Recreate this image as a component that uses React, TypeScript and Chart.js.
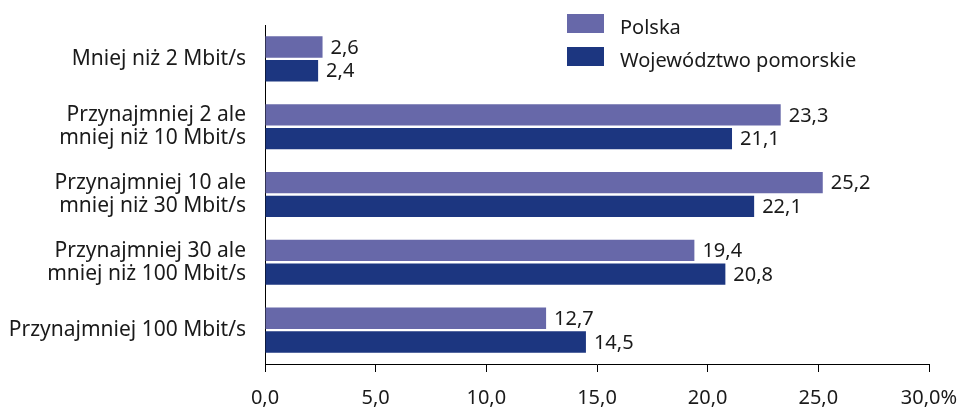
import React, { useEffect, useRef } from "react";
import { Chart, registerables } from "chart.js";

Chart.register(...registerables);

const categories: (string | string[])[] = [
  "Mniej niż 2 Mbit/s",
  ["Przynajmniej 2 ale", "mniej niż 10 Mbit/s"],
  ["Przynajmniej 10 ale", "mniej niż 30 Mbit/s"],
  ["Przynajmniej 30 ale", "mniej niż 100 Mbit/s"],
  "Przynajmniej 100 Mbit/s",
];
const seriesNames = ["Polska", "Województwo pomorskie"];
const polska = [2.6, 23.3, 25.2, 19.4, 12.7];
const pomorskie = [2.4, 21.1, 22.1, 20.8, 14.5];
const xTicks = [0, 5, 10, 15, 20, 25, 30];
const colors = ["#6768a9", "#1c3680"];

const FONT = "'Noto Sans'";
const FS = 20;
const TEXT = "#1a1a1a";

const fmt = (v: number) => v.toFixed(1).replace(".", ",");

const valueLabels = {
  id: "valueLabels",
  afterDatasetsDraw(chart: any) {
    const ctx = chart.ctx;
    ctx.save();
    ctx.font = `${FS}px ${FONT}`;
    ctx.fillStyle = TEXT;
    ctx.textAlign = "left";
    ctx.textBaseline = "middle";
    chart.data.datasets.forEach((ds: any, i: number) => {
      const meta = chart.getDatasetMeta(i);
      meta.data.forEach((el: any, j: number) => {
        ctx.fillText(fmt(ds.data[j]), el.x + 8, el.y + 1);
      });
    });
    ctx.restore();
  },
};

const customLegend = {
  id: "customLegend",
  afterDraw(chart: any) {
    const ctx = chart.ctx;
    ctx.save();
    ctx.font = `${FS}px ${FONT}`;
    ctx.textAlign = "left";
    ctx.textBaseline = "middle";
    chart.data.datasets.forEach((ds: any, i: number) => {
      const boxX = 567;
      const boxY = 14 + i * 33;
      ctx.fillStyle = ds.backgroundColor;
      ctx.fillRect(boxX, boxY, 37, 19);
      ctx.fillStyle = TEXT;
      ctx.fillText(ds.label, 620, boxY + 14);
    });
    ctx.restore();
  },
};

export default function App() {
  const ref = useRef<HTMLCanvasElement>(null);
  useEffect(() => {
    if (!ref.current) return;
    const chart = new Chart(ref.current, {
      type: "bar",
      data: {
        labels: categories,
        datasets: [
          { label: seriesNames[0], data: polska, backgroundColor: colors[0] },
          { label: seriesNames[1], data: pomorskie, backgroundColor: colors[1] },
        ],
      },
      options: {
        indexAxis: "y",
        animation: false,
        responsive: false,
        maintainAspectRatio: false,
        layout: { padding: { top: 25, right: 28, bottom: 0, left: 0 } },
        datasets: { bar: { categoryPercentage: 0.7, barPercentage: 0.9 } },
        plugins: { legend: { display: false }, tooltip: { enabled: false } },
        scales: {
          x: {
            min: 0,
            max: 30,
            afterBuildTicks: (scale: any) => {
              scale.ticks = xTicks.map((v) => ({ value: v }));
            },
            afterFit: (scale: any) => {
              scale.height = 44;
              scale.paddingRight = 0;
              scale.paddingLeft = 0;
            },
            ticks: {
              callback: (v: any) => fmt(Number(v)) + (Number(v) === 30 ? "%" : ""),
              font: { family: FONT, size: FS },
              color: TEXT,
              padding: 14,
              maxRotation: 0,
            },
            grid: {
              drawOnChartArea: false,
              drawTicks: true,
              tickLength: 8,
              color: "#000",
              lineWidth: 1,
            },
            border: { display: true, color: "#000", width: 1 },
          },
          y: {
            afterFit: (scale: any) => {
              scale.width = 265;
              scale.paddingTop = 0;
              scale.paddingBottom = 0;
            },
            ticks: {
              font: { family: FONT, size: 21, lineHeight: 1.1 },
              color: TEXT,
              padding: 19,
            },
            grid: { display: false, drawTicks: false },
            border: { display: true, color: "#000", width: 1 },
          },
        },
      },
      plugins: [valueLabels, customLegend],
    });
    return () => chart.destroy();
  }, []);
  return (
    <div style={{ position: "fixed", left: 0, top: 0, width: 957, height: 408 }}>
      <canvas ref={ref} width={957} height={408} style={{ display: "block" }} />
    </div>
  );
}
